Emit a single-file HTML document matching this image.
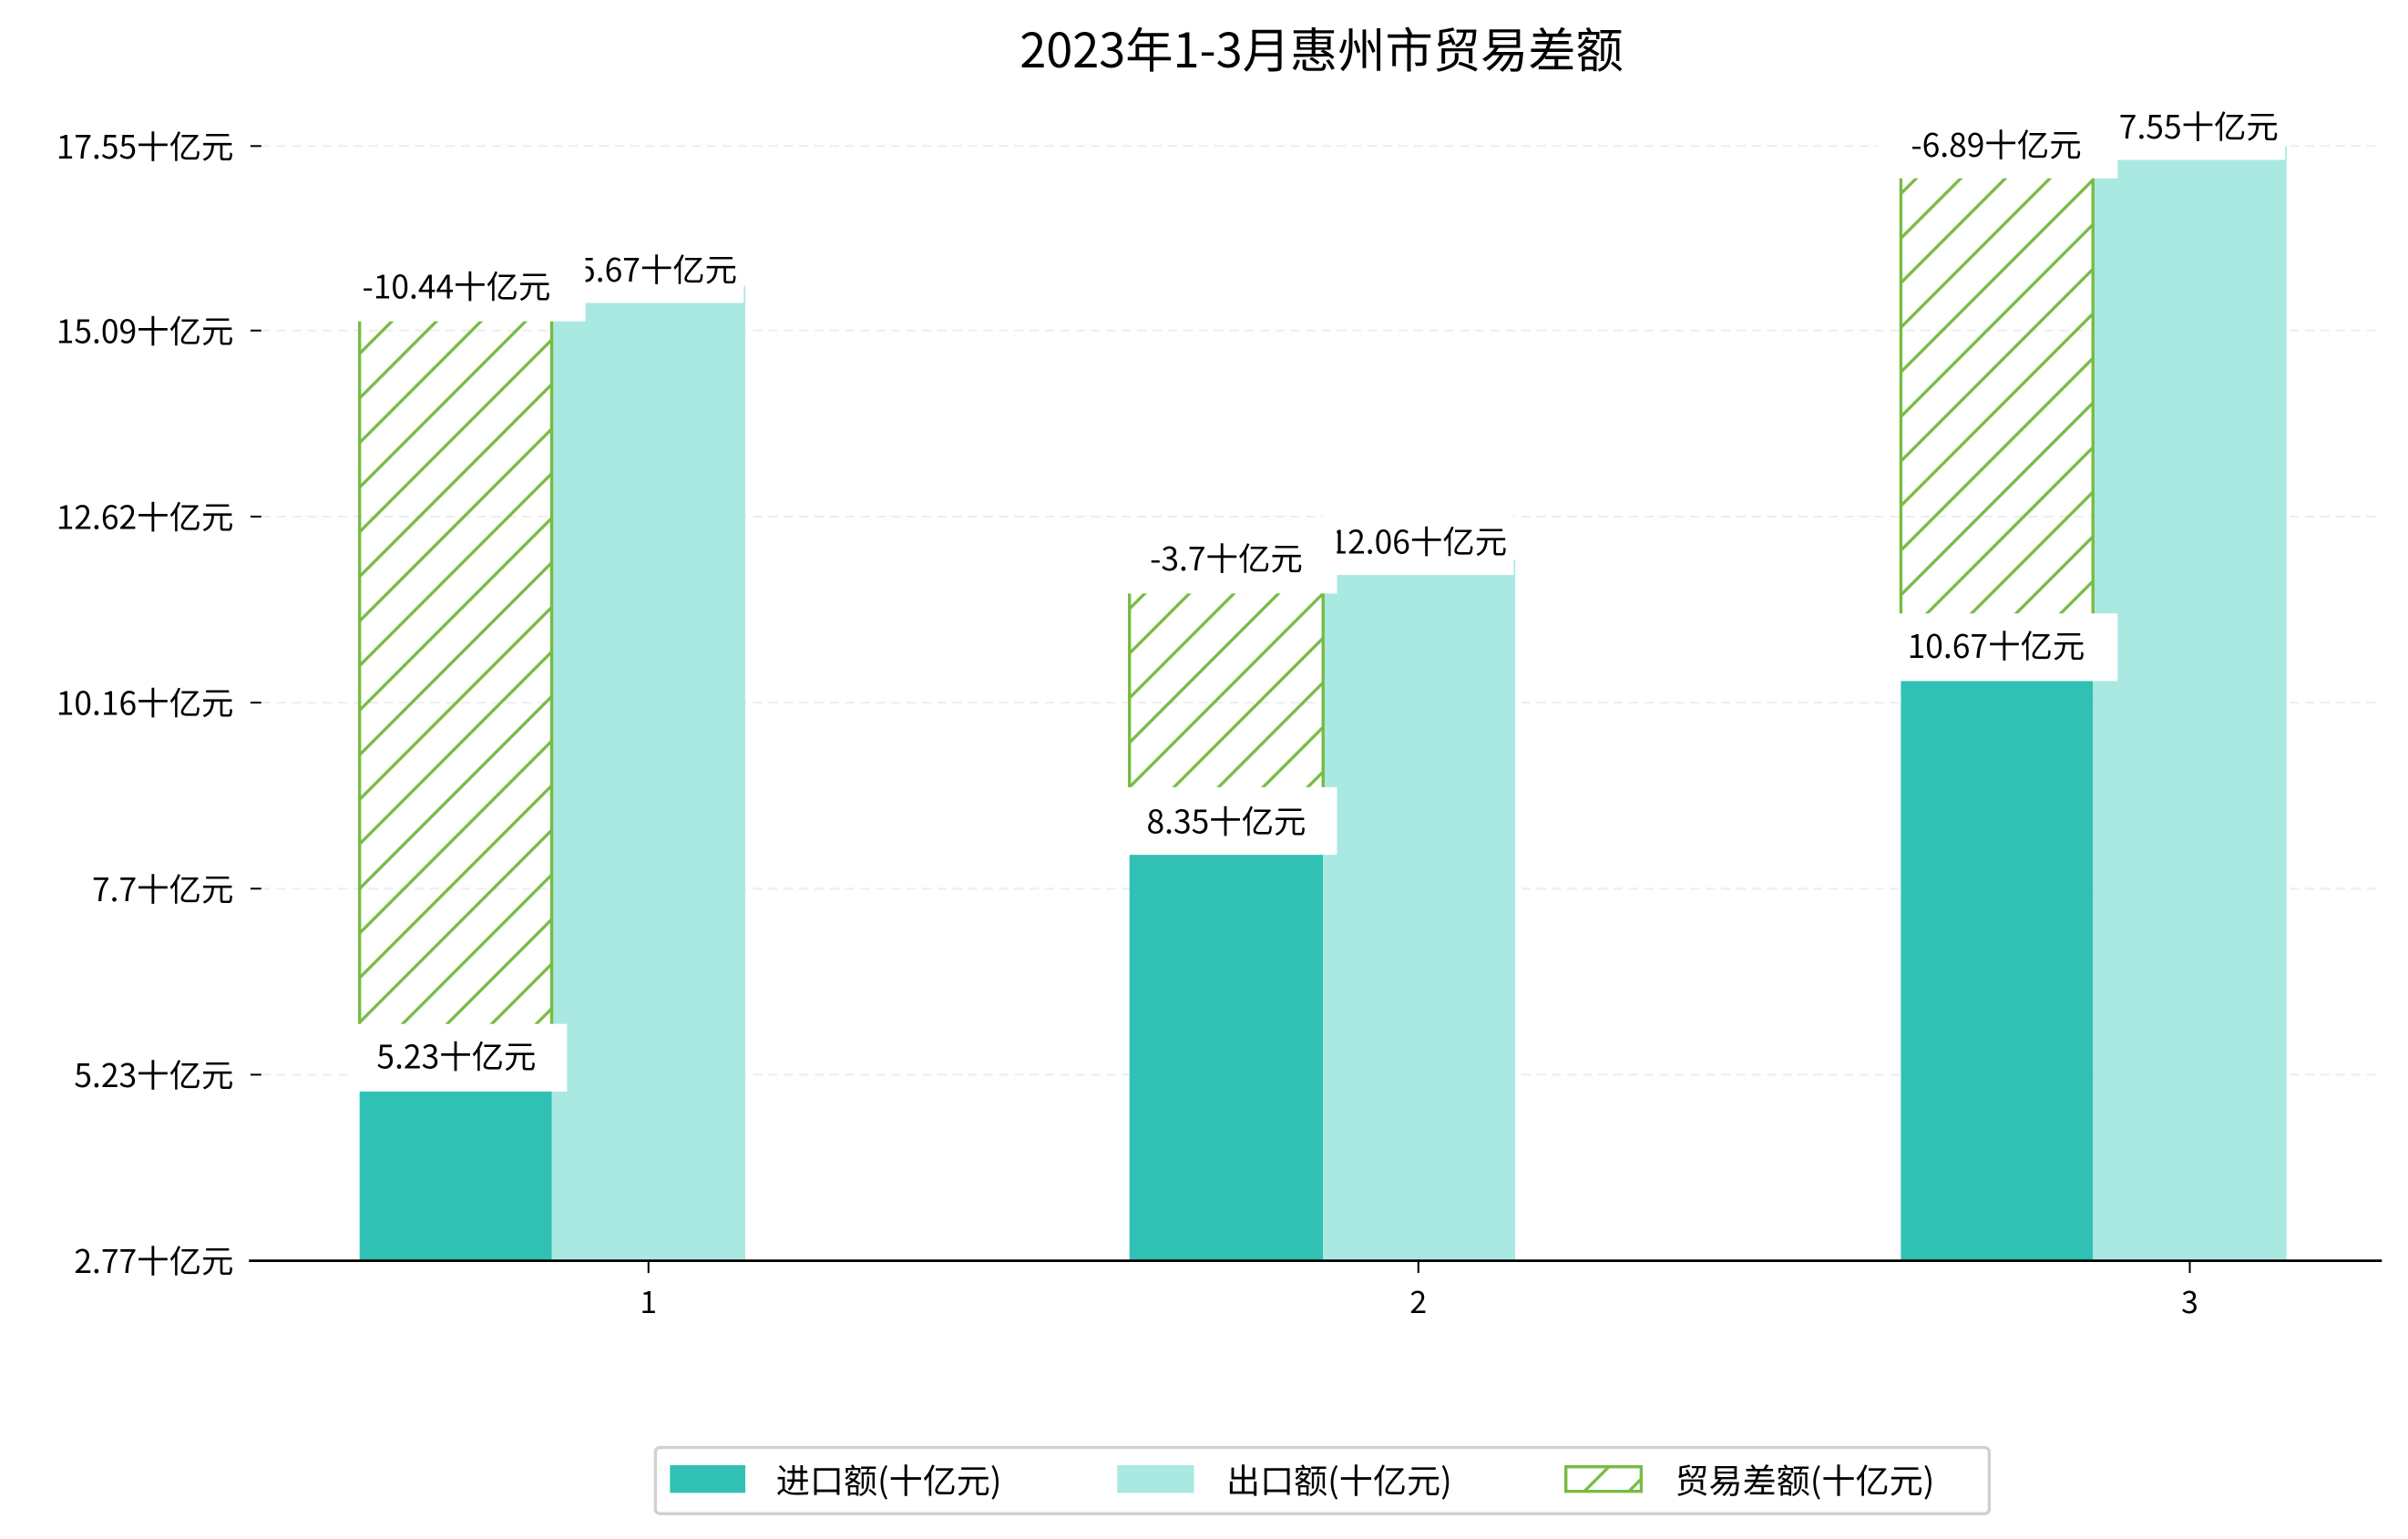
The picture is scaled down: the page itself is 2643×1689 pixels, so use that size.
<!DOCTYPE html>
<html><head><meta charset="utf-8"><style>
html,body{margin:0;padding:0;background:#fff;}
svg{display:block;}
text{font-family:"WenQuanYi Zen Hei","Noto Sans CJK SC",sans-serif;fill:#000;}
</style></head><body>
<svg width="2643" height="1689" viewBox="0 0 1567 1001" preserveAspectRatio="none" xmlns="http://www.w3.org/2000/svg">
<defs>
<pattern id="h" patternUnits="userSpaceOnUse" width="29" height="29">
<line x1="-2" y1="31" x2="31" y2="-2" stroke="#77bb44" stroke-width="2"/>
<line x1="-31" y1="31" x2="2" y2="-2" stroke="#77bb44" stroke-width="2"/>
<line x1="27" y1="31" x2="60" y2="-2" stroke="#77bb44" stroke-width="2"/>
</pattern>
</defs>
<rect width="1567" height="1001" fill="#fff"/>
<text x="860" y="44" font-size="31" text-anchor="middle">2023年1-3月惠州市贸易差额</text>
<g stroke="#eeeeee" stroke-width="1.2" stroke-dasharray="6,4">
<line x1="170" y1="95" x2="1550" y2="95"/><line x1="170" y1="215" x2="1550" y2="215"/>
<line x1="170" y1="336" x2="1550" y2="336"/><line x1="170" y1="457" x2="1550" y2="457"/>
<line x1="170" y1="578" x2="1550" y2="578"/><line x1="170" y1="699" x2="1550" y2="699"/>
</g>
<g font-size="21" text-anchor="end">
<text x="152" y="103">17.55十亿元</text><text x="152" y="223">15.09十亿元</text>
<text x="152" y="344">12.62十亿元</text><text x="152" y="465">10.16十亿元</text>
<text x="152" y="586">7.7十亿元</text><text x="152" y="707">5.23十亿元</text>
<text x="152" y="828">2.77十亿元</text>
</g>
<g stroke="#000" stroke-width="1.2">
<line x1="163" y1="95" x2="170" y2="95"/><line x1="163" y1="215" x2="170" y2="215"/>
<line x1="163" y1="336" x2="170" y2="336"/><line x1="163" y1="457" x2="170" y2="457"/>
<line x1="163" y1="578" x2="170" y2="578"/><line x1="163" y1="699" x2="170" y2="699"/>
<line x1="163" y1="820" x2="170" y2="820"/>
</g>
<rect x="234" y="699" width="125" height="121" fill="#31c0b4"/>
<rect x="359" y="186" width="126" height="634" fill="#aae8e2"/>
<rect x="735" y="546" width="126" height="274" fill="#31c0b4"/>
<rect x="861" y="364" width="125" height="456" fill="#aae8e2"/>
<rect x="1237" y="432" width="125" height="388" fill="#31c0b4"/>
<rect x="1362" y="95" width="126" height="725" fill="#aae8e2"/>
<rect x="234" y="186" width="125" height="513" fill="url(#h)" stroke="#77bb44" stroke-width="2"/>
<rect x="735" y="364" width="126" height="182" fill="url(#h)" stroke="#77bb44" stroke-width="2"/>
<rect x="1237" y="95" width="125" height="337" fill="url(#h)" stroke="#77bb44" stroke-width="2"/>
<g font-size="21" text-anchor="middle">
<rect x="360" y="153" width="124" height="44" fill="#fff"/><text x="422" y="183">15.67十亿元</text>
<rect x="861" y="330" width="124" height="44" fill="#fff"/><text x="923" y="360">12.06十亿元</text>
<rect x="1363" y="60" width="124" height="44" fill="#fff"/><text x="1425" y="90">17.55十亿元</text>
<rect x="227" y="666" width="142" height="44" fill="#fff"/><text x="297" y="695">5.23十亿元</text>
<rect x="728" y="512" width="142" height="44" fill="#fff"/><text x="798" y="542">8.35十亿元</text>
<rect x="1222" y="399" width="156" height="44" fill="#fff"/><text x="1299" y="428">10.67十亿元</text>
<rect x="216" y="165" width="165" height="44" fill="#fff"/><text x="297" y="194">-10.44十亿元</text>
<rect x="728" y="342" width="142" height="44" fill="#fff"/><text x="798" y="371">-3.7十亿元</text>
<rect x="1222" y="72" width="156" height="44" fill="#fff"/><text x="1299" y="102">-6.89十亿元</text>
</g>
<line x1="162" y1="820" x2="1550" y2="820" stroke="#000" stroke-width="1.6"/>
<g stroke="#000" stroke-width="1.2">
<line x1="422" y1="820" x2="422" y2="828"/><line x1="923" y1="820" x2="923" y2="828"/><line x1="1425" y1="820" x2="1425" y2="828"/>
</g>
<g font-size="20" text-anchor="middle">
<text x="422" y="854">1</text><text x="923" y="854">2</text><text x="1425" y="854">3</text>
</g>
<rect x="426.5" y="941.5" width="868" height="43" rx="3" fill="#fff" stroke="#d0d0d0" stroke-width="2"/>
<rect x="436" y="953" width="49" height="18" fill="#31c0b4"/>
<rect x="727" y="953" width="50" height="18" fill="#aae8e2"/>
<rect x="1019" y="954" width="49" height="16" fill="url(#h)" stroke="#77bb44" stroke-width="2"/>
<g font-size="22">
<text x="505" y="971">进口额(十亿元)</text>
<text x="798" y="971">出口额(十亿元)</text>
<text x="1090" y="971">贸易差额(十亿元)</text>
</g>
</svg>
</body></html>
